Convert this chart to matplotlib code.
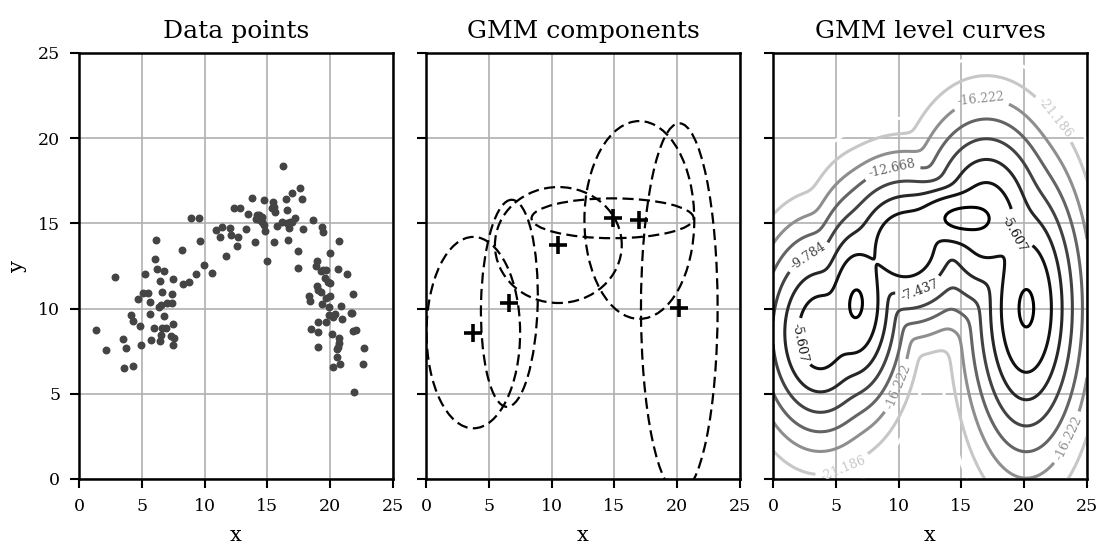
import numpy as np
import matplotlib
matplotlib.use("Agg")
import matplotlib.pyplot as plt
from matplotlib.patches import Ellipse

plt.rcParams['font.family'] = ['DejaVu Serif']

# data points
x_pts = [1.33, 2.12, 2.84, 3.53, 3.72, 3.61, 4.30, 4.17, 4.33, 4.86, 4.96, 5.71, 6.42, 6.50,
         5.97, 6.64, 6.90, 7.46, 7.30, 7.56, 7.46, 5.65, 6.79, 5.68, 4.72, 5.12, 5.49, 6.39,
         6.53, 6.98, 7.43, 6.64, 7.38, 6.45, 5.28, 6.18, 6.77, 6.05, 6.13, 7.48, 8.25, 8.73,
         8.17, 9.34, 9.93, 10.59, 9.61, 8.92, 9.55,
         10.88, 11.41, 11.22, 12.01, 12.07, 12.62, 11.71, 12.58, 12.34, 12.80, 13.30, 13.43,
         13.79, 13.98, 14.09, 14.30, 14.54, 14.15, 14.41, 14.60, 14.73, 14.70, 14.78, 14.98,
         15.47, 15.53, 15.40, 15.63, 15.50, 15.74, 16.20, 16.24, 16.48, 16.55, 16.59, 16.72,
         16.96, 16.80, 17.20, 16.65, 16.92, 17.60, 17.78, 17.86, 17.45, 17.45, 18.62, 19.36,
         19.42, 20.73, 19.96,
         18.95, 18.87, 19.25, 19.45, 19.70, 20.60, 21.30, 19.59, 19.80, 19.98, 18.92, 19.03,
         19.23, 18.34, 18.42, 19.63, 19.96, 19.38, 19.89, 20.83, 21.84, 19.93, 20.40, 20.21,
         20.94, 21.66, 21.76, 19.67, 19.05, 18.45, 18.99, 20.18, 20.67, 21.82, 22.03, 20.72,
         20.62, 20.58, 18.99, 22.70, 20.58, 20.25, 20.80, 22.60, 21.88]
y_pts = [8.74, 7.55, 11.84, 8.20, 7.67, 6.53, 6.65, 9.60, 9.27, 9.00, 7.85, 8.18, 8.10, 8.45,
         8.88, 8.84, 8.88, 9.11, 8.41, 8.26, 7.88, 9.68, 9.57, 10.41, 10.58, 10.90, 10.90, 10.09,
         10.21, 10.35, 10.31, 10.99, 10.88, 11.62, 12.03, 12.34, 12.19, 12.89, 14.01, 11.74, 11.46,
         11.58, 13.42, 12.03, 12.54, 12.08, 13.97, 15.30, 15.30,
         14.60, 14.76, 14.18, 14.72, 14.30, 14.23, 13.08, 13.65, 15.88, 15.88, 14.69, 15.57,
         16.47, 13.92, 15.24, 15.47, 15.36, 15.51, 15.20, 15.10, 16.40, 14.91, 14.56, 12.79,
         16.28, 15.98, 15.90, 15.65, 13.93, 14.83, 15.06, 18.37, 16.43, 15.78, 15.04, 14.74,
         15.08, 15.10, 15.32, 14.03, 16.80, 17.06, 16.43, 14.70, 13.40, 12.40, 15.20, 14.81,
         14.52, 13.96, 13.25,
         12.81, 12.52, 12.19, 12.27, 12.26, 12.30, 12.03, 11.79, 11.58, 11.52, 11.35, 11.10,
         11.00, 10.72, 10.44, 10.64, 10.72, 10.27, 10.11, 10.13, 10.84, 9.62, 9.67, 9.48,
         9.38, 9.76, 9.72, 9.20, 9.20, 8.78, 8.63, 8.51, 8.28, 8.71, 8.74, 7.98,
         7.76, 7.65, 7.74, 7.68, 7.14, 6.58, 6.75, 6.73, 5.09]

# GMM components
mean_x = [3.77, 6.64, 10.54, 14.86, 16.99, 20.17]
mean_y = [8.59, 10.31, 13.73, 15.30, 15.20, 10.02]
var_x = [1.38, 0.837, 1.87, 2.39, 1.62, 1.13]
var_y = [2.08, 2.25, 1.26, 0.433, 2.15, 4.02]
cov_xy = [0.0, 0.05, 0.0, 0.0, 0.0, 0.0]
weights = [0.115, 0.18, 0.14, 0.15, 0.13, 0.285]

levels = [-26.0, -21.186, -16.222, -12.668, -9.784, -7.437, -5.607, -4.0]
label_pos = [(16.5, 22.6), (22.85, 21.4), (9.4, 18.4), (2.8, 13.05), (19.3, 14.4),
             (11.6, 11.2), (2.55, 8.06), (10.4, 5.3), (23.8, 2.3), (5.6, 0.6)]

ELL_SCALE = 2.7  # ellipse half-axis per unit of eigenvalue


def gmm_logpdf(X, Y):
    tot = np.zeros_like(X)
    for mx, my, vx, vy, c, w in zip(mean_x, mean_y, var_x, var_y, cov_xy, weights):
        det = vx * vy - c * c
        dx, dy = X - mx, Y - my
        q = (vy * dx * dx - 2 * c * dx * dy + vx * dy * dy) / det
        tot += w * np.exp(-0.5 * q) / (2 * np.pi * np.sqrt(det))
    return np.log(tot)


def style_axis(ax):
    ax.set_xlim(0, 25)
    ax.set_ylim(0, 25)
    ax.set_xticks(range(0, 26, 5))
    ax.set_yticks(range(0, 26, 5))
    ax.grid(True, color='#b0b0b0', linewidth=1.2)
    ax.set_axisbelow(True)
    for s in ax.spines.values():
        s.set_linewidth(1.8)
    ax.tick_params(direction='out', length=6.5, width=1.5, labelsize=12.5, pad=7)
    ax.set_xlabel('x', fontsize=15, labelpad=8)


fig = plt.figure(figsize=(10.99, 5.43), dpi=100)
ax1 = fig.add_axes([0.0719, 0.1179, 0.2857, 0.7845])
ax2 = fig.add_axes([0.3876, 0.1179, 0.2857, 0.7845])
ax3 = fig.add_axes([0.7034, 0.1179, 0.2857, 0.7845])

ax1.scatter(x_pts, y_pts, s=22, color='#444444', zorder=3)
ax1.set_title('Data points', fontsize=18, pad=11)
ax1.set_ylabel('y', fontsize=15, labelpad=8)

for mx, my, vx, vy, c in zip(mean_x, mean_y, var_x, var_y, cov_xy):
    vals, vecs = np.linalg.eigh(np.array([[vx, c], [c, vy]]))
    ang = np.degrees(np.arctan2(vecs[1, 0], vecs[0, 0]))
    ax2.add_patch(Ellipse((mx, my), 2 * ELL_SCALE * vals[0], 2 * ELL_SCALE * vals[1],
                          angle=ang, fill=False, linestyle=(0, (5, 2.4)), linewidth=1.6,
                          edgecolor='black', zorder=3))
ax2.plot(mean_x, mean_y, '+', color='black', markersize=12.5, mew=2.6, zorder=4)
ax2.set_title('GMM components', fontsize=18, pad=11)
ax2.tick_params(labelleft=False)

gx = np.linspace(0, 25, 300)
GX, GY = np.meshgrid(gx, gx)
Z = gmm_logpdf(GX, GY)
cs = ax3.contour(GX, GY, Z, levels=levels, cmap='gray_r', linewidths=2.2)
ax3.clabel(cs, fmt='%.3f', fontsize=9, manual=label_pos, inline=True)
ax3.set_title('GMM level curves', fontsize=18, pad=11)
ax3.tick_params(labelleft=False)

for ax in (ax1, ax2, ax3):
    style_axis(ax)

fig.savefig('out.png', dpi=100)
